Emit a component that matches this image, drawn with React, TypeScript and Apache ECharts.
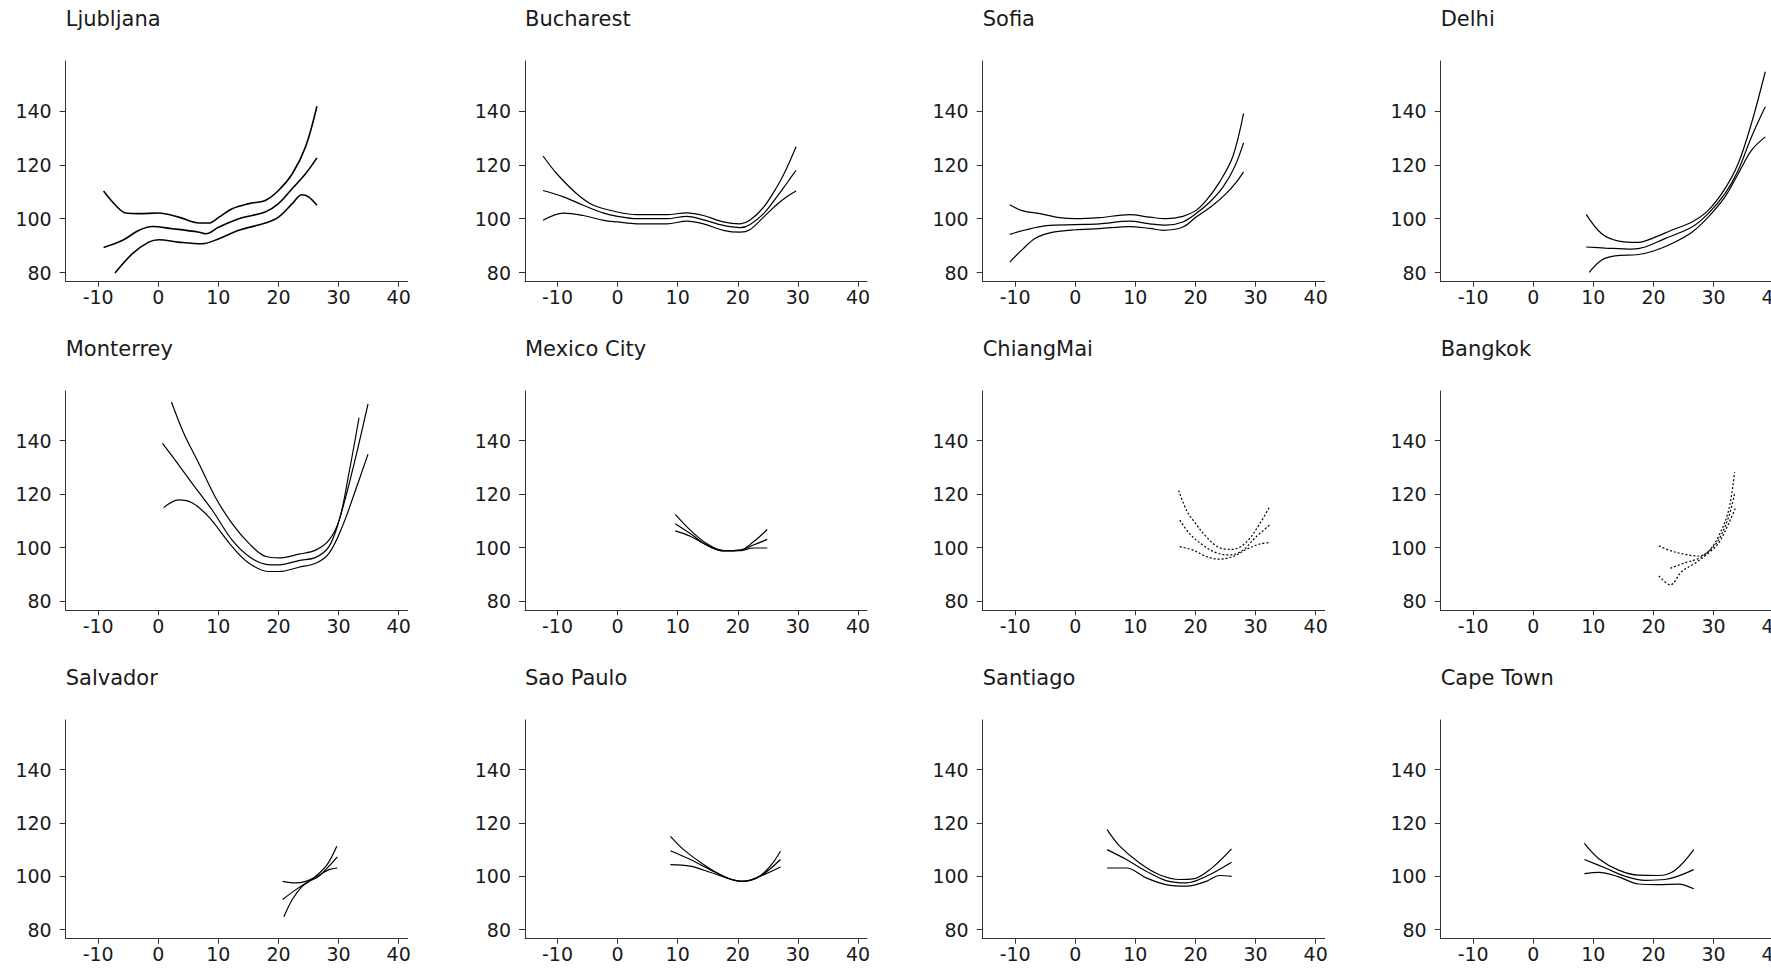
import React, { useEffect, useRef } from "react";
import * as echarts from "echarts";

type Pt = [number, number];

const cityNames = [
  "Ljubljana", "Bucharest", "Sofia", "Delhi",
  "Monterrey", "Mexico City", "ChiangMai", "Bangkok",
  "Salvador", "Sao Paulo", "Santiago", "Cape Town",
];

const xTicks = [-10, 0, 10, 20, 30, 40];
const yTicks = [80, 100, 120, 140];

// Ljubljana
const ljubljanaUpper: Pt[] = [[-9.1,110.3],[-7.1,105],[-5.4,102.1],[-3.2,101.9],[0,102.1],[3.4,100.6],[6.8,98.4],[8.4,98.4],[10.1,100.6],[12.3,103.7],[15.1,105.6],[17.8,106.8],[20,110.5],[22.3,116.7],[24.5,126.7],[26.4,141.8]];
const ljubljanaMid: Pt[] = [[-9.1,89.3],[-6,91.9],[-3.2,95.7],[-1,97.1],[2.3,96.3],[6.8,95],[7.9,94.4],[10.1,96.9],[13.4,100],[17.8,102.5],[20,105.6],[22.3,111.2],[24.5,116.7],[26.4,122.6]];
const ljubljanaLower: Pt[] = [[-7.2,79.8],[-4.3,87],[-1.6,91.3],[0.1,92.2],[3.4,91.3],[7.3,90.7],[10.1,92.6],[13.4,95.7],[17.8,98.4],[20,100.6],[22.3,105.6],[23.9,108.9],[25,108.1],[26.4,105]];
// Bucharest
const bucharestUpper: Pt[] = [[-12.4,123.3],[-10.1,116.7],[-6.8,109.3],[-4,105],[0,102.5],[3.2,101.5],[8.2,101.5],[11.5,102.2],[14.3,101.2],[17.6,98.8],[20.4,98.1],[22,99.4],[24.3,104.3],[26.5,111.8],[28.1,118.6],[29.7,126.7]];
const bucharestMid: Pt[] = [[-12.4,110.5],[-9,108.1],[-5.7,105],[-2.3,102.1],[0,100.9],[3.2,100],[8.2,100],[11.5,100.9],[14.3,99.6],[17.6,97.5],[20.4,96.7],[22,97.8],[24.3,101.9],[26.5,108.1],[28.1,113],[29.7,118]];
const bucharestLower: Pt[] = [[-12.4,99.4],[-9,102.1],[-5.7,101.2],[-2.3,99.4],[0,98.8],[3.2,98.1],[8.2,98.1],[11.5,99.1],[14.3,98.1],[17.6,95.7],[20.4,95],[22,95.9],[24.3,100.6],[26.5,105.3],[28.1,108.1],[29.7,110.3]];
// Sofia
const sofiaUpper: Pt[] = [[-10.9,105.2],[-8.7,102.9],[-5.9,101.9],[-2.6,100.4],[0,100],[4,100.4],[9,101.5],[12.4,100.6],[15.1,100],[17.9,100.9],[20.1,103.1],[21.8,106.8],[24,113.6],[26.2,123],[28,139.1]];
const sofiaMid: Pt[] = [[-10.9,94.2],[-8.2,95.9],[-4.8,97.4],[0,97.8],[4,98.1],[9,99.1],[12.4,98.1],[15.1,97.6],[17.9,98.8],[20.1,101.9],[22.4,106.2],[24.6,111.8],[26.5,119.2],[28,128.2]];
const sofiaLower: Pt[] = [[-10.9,83.9],[-8.7,88.8],[-6.5,92.9],[-3.7,95],[0,95.9],[4,96.3],[9,97.1],[12.4,96.4],[14.6,95.7],[17.9,96.9],[20.1,100.6],[22.9,105],[25.1,109.3],[26.8,113.6],[28,117.4]];
// Delhi
const delhiUpper: Pt[] = [[8.8,101.6],[11.4,94.4],[14.2,91.7],[17.5,91.2],[20,92.9],[23,95.7],[26.4,98.8],[29.1,103.1],[31.9,111.2],[34.1,120.5],[36.3,135.4],[38.6,154.6]];
const delhiMid: Pt[] = [[8.8,89.5],[12,89.1],[16.4,88.7],[18.6,89.5],[21.9,92.6],[26.4,96.9],[29.1,101.9],[31.9,109.3],[34.1,118],[36.3,130.4],[38.6,141.6]];
const delhiLower: Pt[] = [[9.3,80.1],[11.4,84.7],[13.6,86.2],[17.5,86.7],[20,88],[23,90.7],[26.4,95],[29.1,100.6],[31.9,108.1],[34.1,116.7],[36.3,125.4],[38.6,130.4]];
// Monterrey
const monterreyUpper: Pt[] = [[2.2,154.5],[4.3,142.5],[6.8,131.3],[9.5,118.9],[12.3,109],[15.1,101.6],[17.9,96.7],[20.1,96.2],[23.4,97.6],[26.2,99.1],[28.4,102.8],[30.1,110.3],[31.7,127.6],[33.4,148.6]];
const monterreyMid: Pt[] = [[0.7,139],[2.9,132.5],[5.7,123.9],[9,114],[12.3,102.8],[15.1,96.7],[17.9,93.8],[20.1,93.6],[23.4,95.2],[26.2,96.4],[28.4,100.4],[30.1,110.3],[32.3,128.8],[34.9,153.8]];
const monterreyLower: Pt[] = [[0.9,115],[3.4,117.9],[5.7,116.7],[8.4,111.5],[12.3,100.4],[15.1,94.2],[18.4,91.1],[20.1,91.1],[23.4,92.7],[26.2,94.2],[28.4,97.9],[30.6,107.8],[32.8,121.4],[34.9,135]];
// Mexico City
const mexicoUpper: Pt[] = [[9.6,112.5],[12.1,106.6],[14.8,101.6],[17.6,98.9],[20.4,99.1],[22.6,102.2],[24.9,106.8]];
const mexicoMid: Pt[] = [[9.6,109],[12.1,105.3],[14.8,101],[17.6,98.9],[20.4,99.1],[22.6,101],[24.9,103.1]];
const mexicoLower: Pt[] = [[9.6,106.3],[12.1,104.3],[14.8,101],[17.6,98.8],[20.4,98.9],[22.6,99.9],[24.9,99.9]];
// ChiangMai
const chiangMaiUpper: Pt[] = [[17.2,121.4],[18.5,114],[19.6,110.3],[21.8,104.1],[24,100],[26.2,99.4],[28.5,102.2],[30.7,109],[32.3,115.2]];
const chiangMaiMid: Pt[] = [[17.4,110.3],[19,105.3],[21.2,101],[23.5,98.1],[25.7,97.3],[27.9,99.1],[30.1,104.1],[32.3,108.4]];
const chiangMaiLower: Pt[] = [[17.4,100.4],[19.6,99.1],[21.8,96.7],[24,95.7],[26.2,96.7],[28.5,99.4],[30.7,101.4],[32.3,101.9]];
// Bangkok
const bangkokUpper: Pt[] = [[20.9,100.7],[22.8,98.9],[25.3,97.5],[27.5,96.9],[29.1,98.5],[30.8,104.1],[32.5,114],[33.5,128.2]];
const bangkokMid: Pt[] = [[22.8,92.3],[25.3,94.4],[27.5,96],[29.1,98.5],[30.8,102.8],[32.5,111.5],[33.5,120.2]];
const bangkokLower: Pt[] = [[20.9,89.5],[22.8,86.1],[24.7,91.1],[26.9,94.2],[29.1,97.9],[30.8,101.6],[32.5,109],[33.7,115.2]];
// Salvador
const salvadorUpper: Pt[] = [[20.7,98.1],[22.9,97.5],[24.5,98.1],[26.7,100.3],[28.4,102.5],[29.8,103.1]];
const salvadorMid: Pt[] = [[20.7,91.3],[22.9,95],[25.1,98.1],[26.7,100],[28.4,103.8],[29.8,107.3]];
const salvadorLower: Pt[] = [[20.9,84.8],[22.3,91.3],[24,96.3],[26.2,100],[28.1,104.4],[29.7,111.3]];
// Sao Paulo
const saoPauloUpper: Pt[] = [[8.8,115],[11,110],[14.3,104.4],[17.6,100],[20.4,98.1],[23.2,99.4],[25.4,103.8],[27.1,109.4]];
const saoPauloMid: Pt[] = [[8.8,109.6],[12.1,106.3],[15.4,102.5],[18.7,99],[20.9,98.1],[23.7,100],[27.1,106.3]];
const saoPauloLower: Pt[] = [[8.8,104.4],[12.1,103.8],[15.4,101.5],[18.7,99],[20.9,98.1],[23.7,100],[27.1,103.5]];
// Santiago
const santiagoUpper: Pt[] = [[5.3,117.5],[7.4,111.3],[10.7,105],[14,100.6],[17.4,98.8],[19.6,99],[22.4,102.5],[26,110.3]];
const santiagoMid: Pt[] = [[5.3,110],[8.5,106.3],[11.8,101.9],[15.1,98.4],[18.5,97.5],[21.8,100],[26,105.3]];
const santiagoLower: Pt[] = [[5.3,103.1],[8.5,103.1],[11.8,99.4],[15.1,96.9],[18.5,96.3],[21.8,98.1],[24,100.3],[26,100]];
// Cape Town
const capeTownUpper: Pt[] = [[8.5,112.3],[10.9,106.6],[14.2,102.3],[17.5,100.4],[20.8,100.3],[23.6,102.3],[26.7,110]];
const capeTownMid: Pt[] = [[8.5,106.3],[12,103.1],[15.3,100],[18.6,98.5],[21.9,98.8],[26.7,102.5]];
const capeTownLower: Pt[] = [[8.5,101],[10.9,101.5],[14.2,99.8],[17.5,97.1],[20.8,96.9],[24.2,97.1],[26.7,95.3]];

const cityCurves: Pt[][][] = [
  [ljubljanaUpper, ljubljanaMid, ljubljanaLower],
  [bucharestUpper, bucharestMid, bucharestLower],
  [sofiaUpper, sofiaMid, sofiaLower],
  [delhiUpper, delhiMid, delhiLower],
  [monterreyUpper, monterreyMid, monterreyLower],
  [mexicoUpper, mexicoMid, mexicoLower],
  [chiangMaiUpper, chiangMaiMid, chiangMaiLower],
  [bangkokUpper, bangkokMid, bangkokLower],
  [salvadorUpper, salvadorMid, salvadorLower],
  [saoPauloUpper, saoPauloMid, saoPauloLower],
  [santiagoUpper, santiagoMid, santiagoLower],
  [capeTownUpper, capeTownMid, capeTownLower],
];

const dottedCities = ["ChiangMai", "Bangkok"];

const colLeft = [65.7, 525, 982.7, 1440.7];
const rowTop = [61, 391, 720];
const rowHeight = [220.7, 219.3, 218.7];
const gridWidth = 342;

const FONT = "DejaVu Sans";
const AXIS_COLOR = "#333";
const TEXT_COLOR = "#1a1a1a";

export default function App() {
  const ref = useRef<HTMLDivElement>(null);
  useEffect(() => {
    if (!ref.current) return;
    const chart = echarts.init(ref.current, undefined, { renderer: "svg" });
    const grids: any[] = [];
    const xAxes: any[] = [];
    const yAxes: any[] = [];
    const titles: any[] = [];
    const series: any[] = [];
    cityNames.forEach((name, i) => {
      const c = i % 4;
      const r = Math.floor(i / 4);
      grids.push({
        left: colLeft[c],
        top: rowTop[r],
        width: gridWidth,
        height: rowHeight[r],
        containLabel: false,
        outerBoundsMode: "none",
      });
      titles.push({
        text: name,
        left: colLeft[c],
        top: rowTop[r] - 53,
        padding: 0,
        textStyle: { fontFamily: FONT, fontSize: 21, fontWeight: "normal", color: TEXT_COLOR },
      });
      xAxes.push({
        type: "value",
        gridIndex: i,
        min: -15.4,
        max: 41.5,
        splitLine: { show: false },
        axisLine: { show: true, onZero: false, lineStyle: { color: AXIS_COLOR, width: 1 } },
        axisTick: { show: true, length: 5, customValues: xTicks, lineStyle: { color: AXIS_COLOR } },
        axisLabel: { customValues: xTicks, margin: 6, fontFamily: FONT, fontSize: 19, color: TEXT_COLOR, hideOverlap: false },
      });
      yAxes.push({
        type: "value",
        gridIndex: i,
        min: 76.6,
        max: 158.6,
        splitLine: { show: false },
        axisLine: { show: true, onZero: false, lineStyle: { color: AXIS_COLOR, width: 1 } },
        axisTick: { show: true, length: 6, customValues: yTicks, lineStyle: { color: AXIS_COLOR } },
        axisLabel: { customValues: yTicks, margin: 14, fontFamily: FONT, fontSize: 19, color: TEXT_COLOR },
      });
      const dotted = dottedCities.includes(name);
      cityCurves[i].forEach((curve) => {
        series.push({
          type: "line",
          xAxisIndex: i,
          yAxisIndex: i,
          data: curve,
          showSymbol: false,
          smooth: 0.35,
          silent: true,
          lineStyle: {
            color: "#000",
            width: name === "Ljubljana" ? 1.6 : 1.2,
            type: dotted ? [2, 2] : "solid",
          },
        });
      });
    });
    chart.setOption({
      animation: false,
      backgroundColor: "#fff",
      title: titles,
      grid: grids,
      xAxis: xAxes,
      yAxis: yAxes,
      series,
    });
    return () => chart.dispose();
  }, []);
  return (
    <div
      ref={ref}
      style={{ position: "fixed", left: 0, top: 0, width: 1771, height: 968, background: "#fff" }}
    />
  );
}
